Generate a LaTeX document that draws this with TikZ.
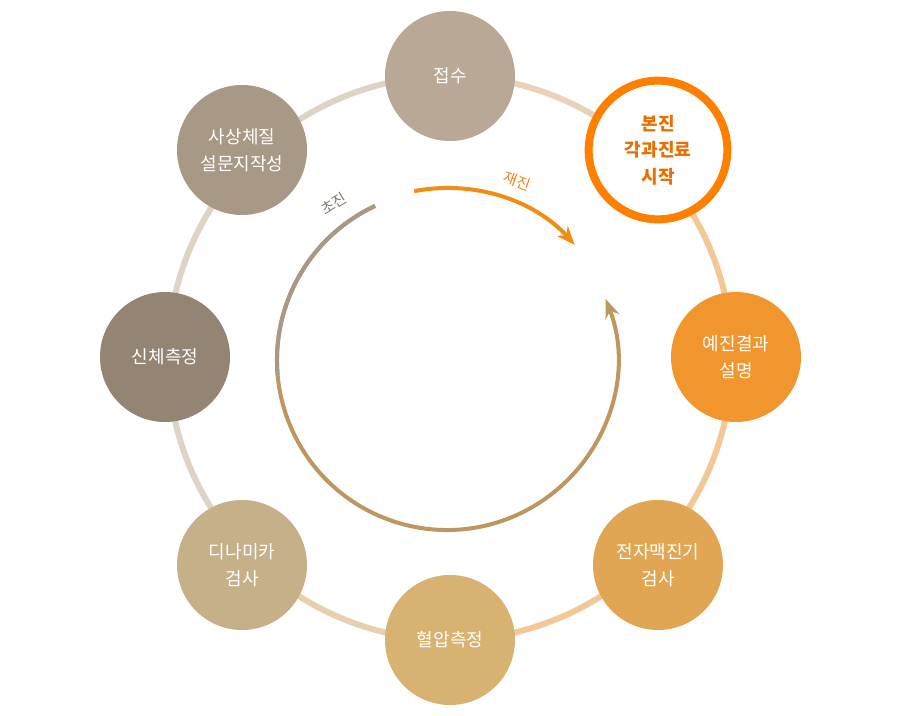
\documentclass[tikz,border=0pt]{standalone}
\usepackage{fontspec}
\newfontfamily\kr{Noto Sans CJK KR}
\usetikzlibrary{arrows.meta}
\definecolor{ringL}{HTML}{DDD3C6}
\definecolor{ringR}{HTML}{F4C896}
\definecolor{ringT}{HTML}{E8D3B8}
\definecolor{ringB}{HTML}{E6D0AE}
\definecolor{c1}{HTML}{B8A895}
\definecolor{c2}{RGB}{255,128,0}
\definecolor{c2t}{RGB}{232,112,0}
\definecolor{c3}{RGB}{241,150,44}
\definecolor{c4}{RGB}{225,166,84}
\definecolor{c5}{RGB}{215,178,112}
\definecolor{c6}{RGB}{197,176,138}
\definecolor{c7}{RGB}{147,132,116}
\definecolor{c8}{RGB}{168,152,134}
\definecolor{arcA}{RGB}{190,150,95}
\definecolor{arcB}{RGB}{168,152,134}
\definecolor{arcO}{RGB}{243,140,20}
\definecolor{lblA}{RGB}{130,120,110}
\definecolor{lblO}{RGB}{243,130,20}
\tikzset{
 stepnode/.style={circle,minimum size=97.5pt,inner sep=0pt,text=white,align=center,font=\kr\fontsize{13.5}{20}\selectfont},
}
\begin{document}
\begin{tikzpicture}[x=0.75pt,y=-0.75pt]
\useasboundingbox (0,0) rectangle (900,716);
\fill[white] (0,0) rectangle (900,716);
\coordinate (c) at (450,358);
\draw[ringT,line width=4.5pt] (c) ++(-90:282) arc[start angle=-90,end angle=-45,radius=282];
\draw[ringR,line width=4.5pt] (c) ++(-45:282) arc[start angle=-45,end angle=90,radius=282];
\draw[ringB,line width=4.5pt] (c) ++(90:282) arc[start angle=90,end angle=135,radius=282];
\draw[ringL,line width=4.5pt] (c) ++(135:282) arc[start angle=135,end angle=270,radius=282];
\node[stepnode,fill=c1] (n1) at (450,76) {접수};
\node[stepnode,fill=white,draw=c2,line width=6pt,minimum size=104pt,text=c2t,font=\kr\bfseries\fontsize{13.5}{20}\selectfont] (n2) at (658,150) {본진\\각과진료\\시작};
\node[stepnode,fill=c3] (n3) at (736,357) {예진결과\\설명};
\node[stepnode,fill=c4] (n4) at (658,565) {전자맥진기\\검사};
\node[stepnode,fill=c5] (n5) at (450,640) {혈압측정};
\node[stepnode,fill=c6] (n6) at (242,565) {디나미카\\검사};
\node[stepnode,fill=c7] (n7) at (165,357) {신체측정};
\node[stepnode,fill=c8] (n8) at (242,150) {사상체질\\설문지작성};
\coordinate (ic) at (447,360);
\draw[arcA,line width=3pt,-{Stealth[length=14pt,width=11pt]}] (ic) ++(-115:170) arc[start angle=-115,end angle=-381,radius=170];
\draw[arcB,line width=3pt] (ic) ++(-115:170) arc[start angle=-115,end angle=-185,radius=170];
\draw[arcO,line width=3pt,-{Stealth[length=14pt,width=11pt]}] (ic) ++(-101:172) arc[start angle=-101,end angle=-42,radius=172];
\node[rotate=32,text=lblA,font=\kr\fontsize{11}{12}\selectfont] (l1) at (334,204) {초진};
\node[rotate=-20,text=lblO,font=\kr\fontsize{11}{12}\selectfont] (l2) at (517,181) {재진};
\end{tikzpicture}
\end{document}
